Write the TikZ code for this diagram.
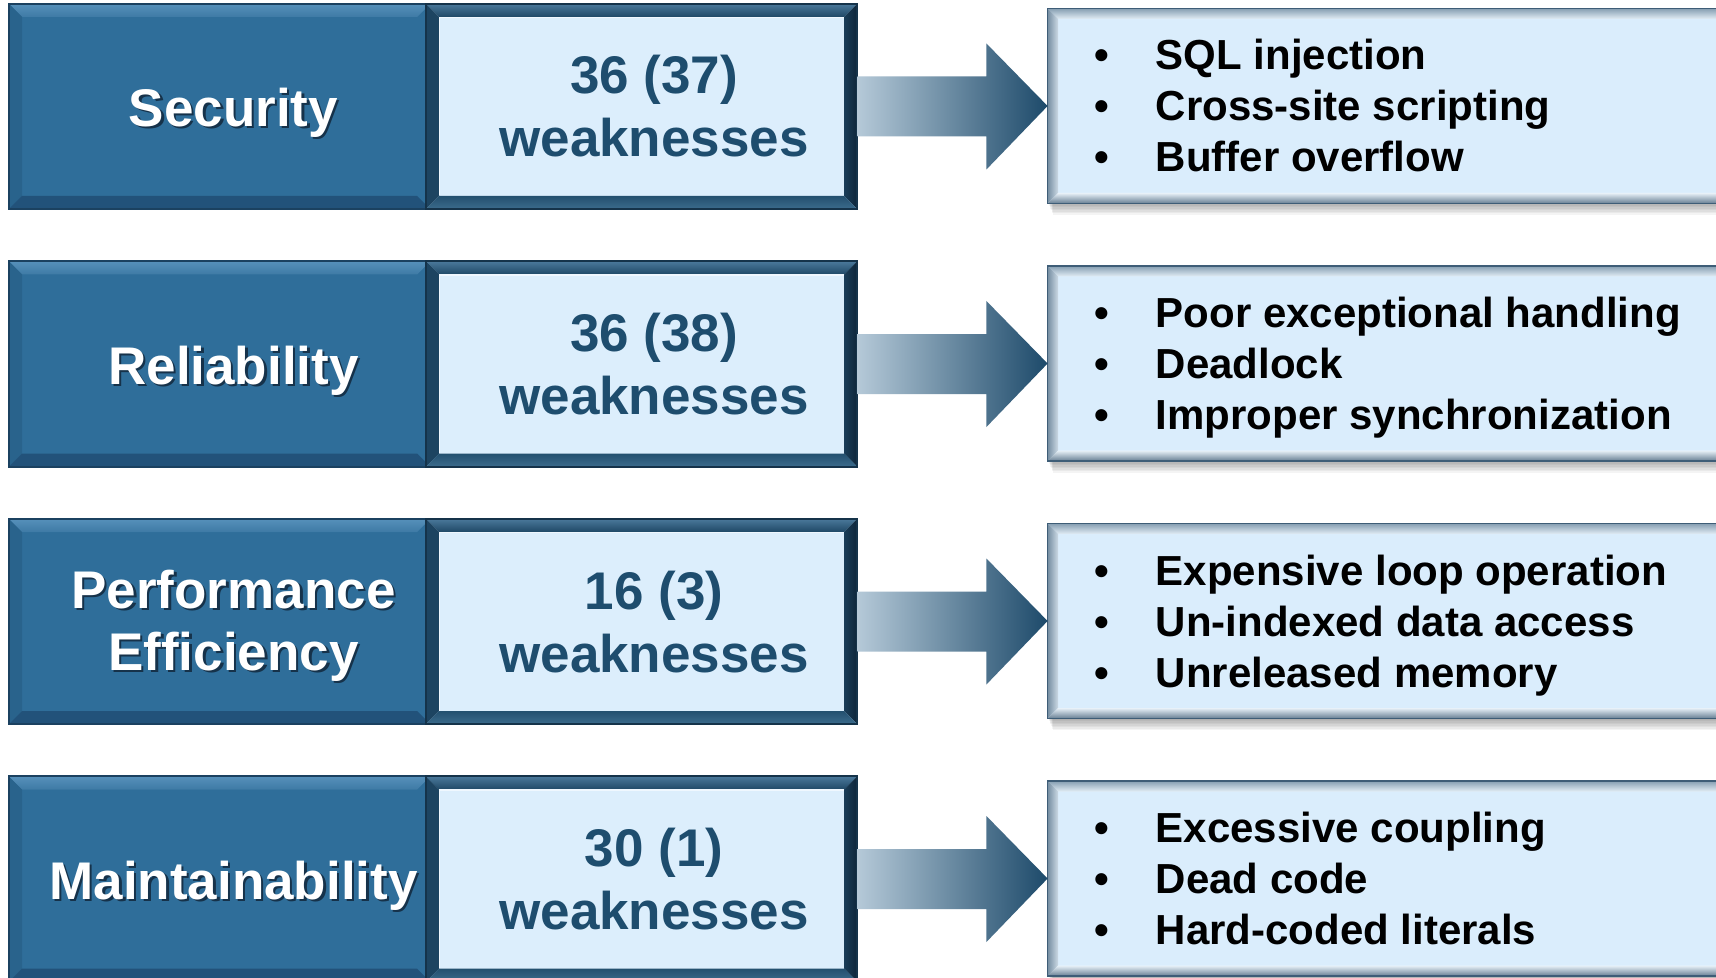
\documentclass[tikz,border=0pt]{standalone}
\usepackage{fontspec}
\setmainfont{Liberation Sans}
\usetikzlibrary{calc}

% palette
\definecolor{catfill}{HTML}{2F6E9A}
\definecolor{cattop}{HTML}{5690BA}
\definecolor{cattopin}{HTML}{3E7AA5}
\definecolor{catleft}{HTML}{29638C}
\definecolor{catbot}{HTML}{22527A}
\definecolor{catline}{HTML}{1B4160}
\definecolor{catshadow}{HTML}{16324A}
\definecolor{cntfill}{HTML}{DCEEFC}
\definecolor{cntink}{HTML}{1E4D6E}
\definecolor{cnttopa}{HTML}{4A789A}
\definecolor{cnttopb}{HTML}{1F4866}
\definecolor{cntleft}{HTML}{1D4461}
\definecolor{cntrighta}{HTML}{1A3D58}
\definecolor{cntrightb}{HTML}{0E263A}
\definecolor{cntbota}{HTML}{23506F}
\definecolor{cntbotb}{HTML}{3C6B8C}
\definecolor{cntline}{HTML}{15334A}
\definecolor{lstfill}{HTML}{DAEDFC}
\definecolor{lsttopa}{HTML}{8AA2B5}
\definecolor{lsttopb}{HTML}{E2EDF5}
\definecolor{lstlefta}{HTML}{7890A4}
\definecolor{lstleftb}{HTML}{CCDAE5}
\definecolor{lstbota}{HTML}{E8F1F8}
\definecolor{lstbotb}{HTML}{6C8397}
\definecolor{lstline}{HTML}{3E5D77}
\definecolor{arrowlight}{HTML}{B5C9D8}
\definecolor{arrowdark}{HTML}{1D4A6A}

% white label with a dark drop shadow
\newcommand\emboss[1]{\rlap{\kern1.2pt\raisebox{-1.2pt}{\textcolor{catshadow}{#1}}}#1}
% bulleted list line
\newcommand\bulletitem[1]{\makebox[30.5pt][l]{\textbullet}#1}

% one row: #1 id, #2 top, #3 category lines, #4 first category baseline,
% #5 count, #6 list lines
\newcommand\qrow[6]{%
\begin{scope}[shift={(0,#2)}]
  % list box with soft shadow and bevelled frame
  \foreach \k in {1,...,8}
    \fill[black, opacity=0.045] ({1048+\k*0.6},{8+\k}) rectangle (1730,{199+\k*1.5});
  \node[lstbox] (lstbox#1) at (1389,102) {};
  \shade[top color=lsttopa, bottom color=lsttopb]
    (1048,5) -- (1730,5) -- (1720,15) -- (1058,15) -- cycle;
  \shade[left color=lstlefta, right color=lstleftb]
    (1048,5) -- (1058,15) -- (1058,189) -- (1048,199) -- cycle;
  \shade[top color=lstbota, bottom color=lstbotb]
    (1048,199) -- (1058,189) -- (1720,189) -- (1730,199) -- cycle;
  \draw[lstline, line width=0.8pt] (lstbox#1.north west) rectangle (lstbox#1.south east);
  \node[lsttext] (items#1) at (1094.5,66)
    {\begin{tabular}[t]{@{}l@{}}#6\end{tabular}};
  % category box
  \node[catbox] (catbox#1) at (219.5,102.5) {};
  \shade[top color=cattop, bottom color=cattopin]
    (9,0) -- (430,0) -- (417,13) -- (22,13) -- cycle;
  \fill[catleft] (9,0) -- (22,13) -- (22,192) -- (9,205) -- cycle;
  \fill[catbot] (9,205) -- (22,192) -- (417,192) -- (430,205) -- cycle;
  \draw[catline, line width=1pt] (catbox#1.north west) rectangle (catbox#1.south east);
  \node[cattext] (cat#1) at (233.5,#4)
    {\begin{tabular}[t]{@{}c@{}}#3\end{tabular}};
  % count box
  \node[cntbox] (cntbox#1) at (641.5,102.5) {};
  \shade[top color=cnttopa, bottom color=cnttopb]
    (426,0) -- (857,0) -- (844,13) -- (439,13) -- cycle;
  \fill[cntleft] (426,0) -- (439,13) -- (439,192) -- (426,205) -- cycle;
  \shade[left color=cntrighta, right color=cntrightb]
    (857,0) -- (857,205) -- (844,192) -- (844,13) -- cycle;
  \shade[top color=cntbota, bottom color=cntbotb]
    (426,205) -- (439,192) -- (844,192) -- (857,205) -- cycle;
  \draw[white!55!cntfill, line width=0.7pt] (439.5,191.5) -- (439.5,13.5) -- (843.5,13.5);
  \draw[cntline, line width=1pt] (cntbox#1.north west) rectangle (cntbox#1.south east);
  \node[cnttext] (cnt#1) at (654,90)
    {\begin{tabular}[t]{@{}c@{}}#5\\weaknesses\end{tabular}};
  % block arrow from the count box to the list box
  \shade[arrowfill]
    ($(cntbox#1.east)+(0,-30)$) -- ++(129,0) -- ++(0,-33) -- (lstbox#1.west)
    -- ($(cntbox#1.east)+(129,63)$) -- ++(0,-33) -- ($(cntbox#1.east)+(0,30)$) -- cycle;
\end{scope}}

\begin{document}
\begin{tikzpicture}[x=0.5pt, y=-0.5pt,
  catbox/.style={rectangle, inner sep=0pt, minimum width=210.5pt, minimum height=102.5pt, fill=catfill},
  cntbox/.style={rectangle, inner sep=0pt, minimum width=215.5pt, minimum height=102.5pt, fill=cntfill},
  lstbox/.style={rectangle, inner sep=0pt, minimum width=341pt, minimum height=97pt, fill=lstfill},
  cattext/.style={anchor=base, inner sep=0pt, text=white,
    font=\bfseries\fontsize{26.5pt}{31pt}\selectfont},
  cnttext/.style={anchor=base, inner sep=0pt, text=cntink,
    font=\bfseries\fontsize{26.5pt}{31.5pt}\selectfont},
  lsttext/.style={anchor=base west, inner sep=0pt, text=black,
    font=\bfseries\fontsize{21pt}{25.5pt}\selectfont},
  arrowfill/.style={left color=arrowlight, right color=arrowdark}]
  \useasboundingbox (0,0) rectangle (1716,978);
  \fill[white] (0,0) rectangle (1716,978);
  \clip (0,0) rectangle (1716,978);

  \qrow{1}{4}{\emboss{Security}}{122.5}{36 (37)}
    {\bulletitem{SQL injection}\\\bulletitem{Cross-site scripting}\\\bulletitem{Buffer overflow}}
  \qrow{2}{261.5}{\emboss{Reliability}}{122.5}{36 (38)}
    {\bulletitem{Poor exceptional handling}\\\bulletitem{Deadlock}\\\bulletitem{Improper synchronization}}
  \qrow{3}{519}{\emboss{Performance}\\\emboss{Efficiency}}{89}{16 (3)}
    {\bulletitem{Expensive loop operation}\\\bulletitem{Un-indexed data access}\\\bulletitem{Unreleased memory}}
  \qrow{4}{776.5}{\emboss{Maintainability}}{122.5}{30 (1)}
    {\bulletitem{Excessive coupling}\\\bulletitem{Dead code}\\\bulletitem{Hard-coded literals}}
\end{tikzpicture}
\end{document}
